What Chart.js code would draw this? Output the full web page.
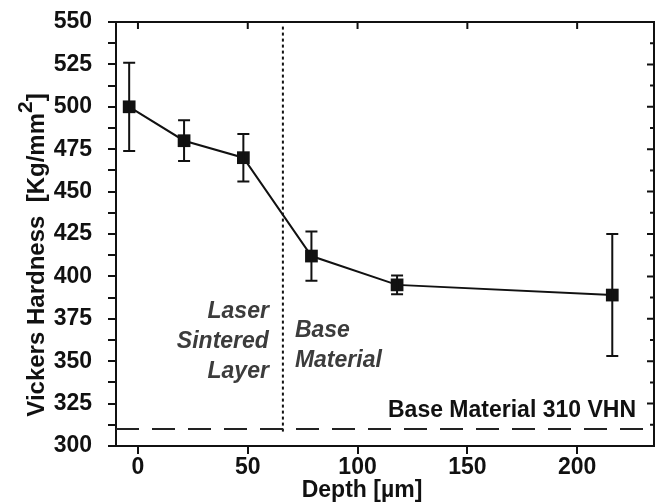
<!DOCTYPE html>
<html>
<head>
<meta charset="utf-8">
<script src="https://cdn.jsdelivr.net/npm/chart.js@4/dist/chart.umd.min.js"></script>
<style>
  body { margin: 0; background: #fff; }
</style>
</head>
<body>
<canvas id="hardnessChart" width="656" height="504"></canvas>
<script>
// hardness profile across the sintered layer
const depth = [-4, 21, 48, 79, 118, 216]
const hardness = [500, 480, 470, 412, 395, 389]
const hardnessErr = [26, 12, 14, 14.5, 5.5, 36]
const xTicks = [0, 50, 100, 150, 200]
const baseHardness = 310
const layerDepth = 66

const FONT = '"Liberation Sans", Arial, sans-serif'
const INK = '#111'

// 誤差棒
const errorBars = {
  id: 'errorBars',
  afterDatasetsDraw (chart) {
    const { ctx, scales: { x, y } } = chart
    ctx.save()
    ctx.strokeStyle = INK
    ctx.lineWidth = 2
    depth.forEach((d, i) => {
      const px = x.getPixelForValue(d)
      const top = y.getPixelForValue(hardness[i] + hardnessErr[i])
      const bot = y.getPixelForValue(hardness[i] - hardnessErr[i])
      ctx.beginPath()
      ctx.moveTo(px, top); ctx.lineTo(px, bot)
      ctx.moveTo(px - 6, top); ctx.lineTo(px + 6, top)
      ctx.moveTo(px - 6, bot); ctx.lineTo(px + 6, bot)
      ctx.stroke()
    })
    ctx.restore()
  }
}

// top / right frame with inward ticks
const frame = {
  id: 'frame',
  afterDraw (chart) {
    const { ctx, chartArea: a, scales: { x, y } } = chart
    ctx.save()
    ctx.strokeStyle = INK
    ctx.lineWidth = 2
    ctx.beginPath()
    ctx.moveTo(a.left, a.top); ctx.lineTo(a.right, a.top); ctx.lineTo(a.right, a.bottom)
    x.ticks.forEach(t => {
      const px = x.getPixelForValue(t.value)
      ctx.moveTo(px, a.top); ctx.lineTo(px, a.top + 7)
    })
    y.ticks.forEach(t => {
      const py = y.getPixelForValue(t.value)
      const len = t.value % 25 === 0 ? 7 : 4
      ctx.moveTo(a.right, py); ctx.lineTo(a.right - len, py)
    })
    ctx.stroke()
    ctx.restore()
  }
}

// 文字註記
const labels = {
  id: 'labels',
  afterDraw (chart) {
    const { ctx, scales: { x } } = chart
    const lx = x.getPixelForValue(layerDepth)
    ctx.save()
    ctx.fillStyle = '#3c3c3c'
    ctx.font = 'italic bold 23px ' + FONT
    ctx.textAlign = 'right'
    ctx.fillText('Laser', lx - 14, 318)
    ctx.fillText('Sintered', lx - 14, 348)
    ctx.fillText('Layer', lx - 14, 378)
    ctx.textAlign = 'left'
    ctx.fillText('Base', lx + 12, 337)
    ctx.fillText('Material', lx + 12, 367)

    ctx.fillStyle = INK
    ctx.font = 'bold 23px ' + FONT
    ctx.textAlign = 'right'
    ctx.fillText('Base Material 310 VHN', 636, 417)

    // axis titles
    ctx.textAlign = 'center'
    ctx.fillText('Depth [\u00b5m]', 362, 497)

    ctx.translate(44, 255)
    ctx.rotate(-Math.PI / 2)
    ctx.font = 'bold 24px ' + FONT
    const main = 'Vickers Hardness  [Kg/mm'
    const wMain = ctx.measureText(main).width
    ctx.font = 'bold 21px ' + FONT
    const wSup = ctx.measureText('2').width
    ctx.font = 'bold 24px ' + FONT
    const wEnd = ctx.measureText(']').width
    let cx = -(wMain + wSup + wEnd) / 2
    ctx.textAlign = 'left'
    ctx.fillText(main, cx, 0)
    cx += wMain
    ctx.font = 'bold 21px ' + FONT
    ctx.fillText('2', cx, -12)
    cx += wSup
    ctx.font = 'bold 24px ' + FONT
    ctx.fillText(']', cx, 0)
    ctx.restore()
  }
}

const tickFont = { family: FONT, size: 23, weight: 'bold' }

new Chart(document.getElementById('hardnessChart'), {
  type: 'line',
  data: {
    datasets: [
      {
        data: depth.map((d, i) => ({ x: d, y: hardness[i] })),
        borderColor: INK,
        borderWidth: 2,
        pointStyle: 'rect',
        pointRadius: 9,
        pointBackgroundColor: INK,
        pointBorderColor: INK,
        pointBorderWidth: 0,
        tension: 0
      },
      {
        data: [{ x: -10, y: baseHardness }, { x: 235, y: baseHardness }],
        borderColor: '#222',
        borderWidth: 2,
        borderDash: [23, 13],
        pointRadius: 0
      },
      {
        data: [{ x: layerDepth, y: 308.5 }, { x: layerDepth, y: 547.5 }],
        borderColor: INK,
        borderWidth: 2,
        borderDash: [3, 3],
        pointRadius: 0
      }
    ]
  },
  options: {
    responsive: false,
    animation: false,
    layout: { autoPadding: false, padding: { top: 22, right: 2, left: 0, bottom: 0 } },
    plugins: {
      legend: { display: false },
      tooltip: { enabled: false }
    },
    scales: {
      x: {
        type: 'linear',
        min: -10,
        max: 235,
        afterBuildTicks: s => { s.ticks = xTicks.map(v => ({ value: v })) },
        afterFit: s => { s.height = 58; s.paddingLeft = 0; s.paddingRight = 0 },
        grid: { drawOnChartArea: false, drawTicks: true, tickLength: 8, color: INK, lineWidth: 2 },
        border: { color: INK, width: 2 },
        ticks: { font: tickFont, color: INK, padding: 0, maxRotation: 0, autoSkip: false }
      },
      y: {
        min: 300,
        max: 550,
        afterFit: s => { s.width = 116; s.paddingTop = 0; s.paddingBottom = 0 },
        grid: { drawOnChartArea: false, drawTicks: true, tickLength: 8, color: INK, lineWidth: 2 },
        border: { color: INK, width: 2 },
        ticks: {
          stepSize: 12.5,
          autoSkip: false,
          font: tickFont,
          color: INK,
          padding: 16,
          callback: v => (v % 25 === 0 ? v : '')
        }
      }
    }
  },
  plugins: [errorBars, frame, labels]
})
</script>
</body>
</html>
